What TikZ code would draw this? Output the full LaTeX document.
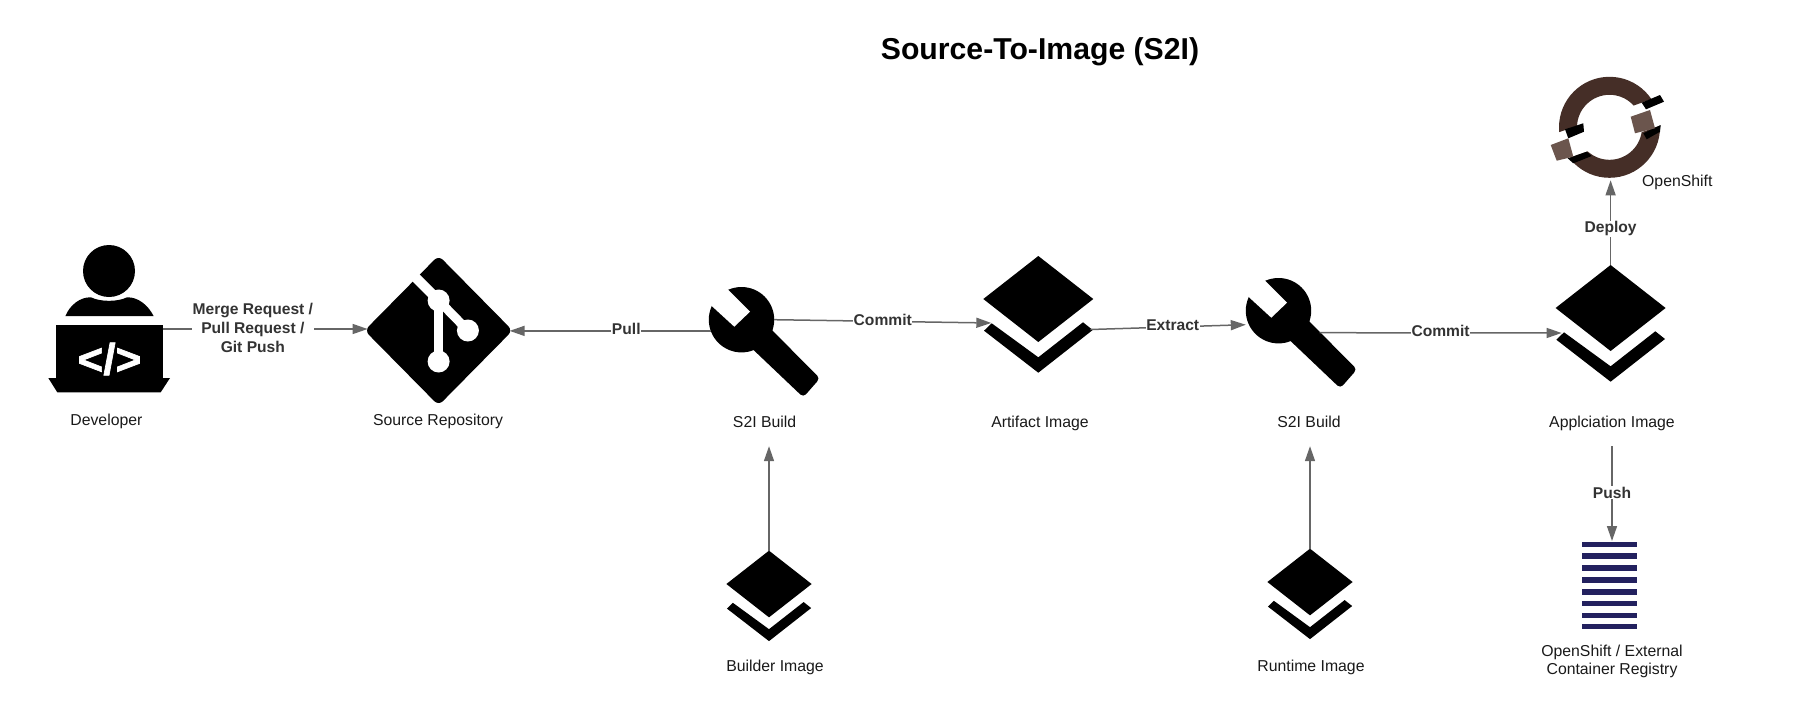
\documentclass[tikz,border=0pt]{standalone}
\usepackage{fontspec}
\setmainfont{Liberation Sans}
\newfontfamily\codefont[BoldFeatures={FakeBold=1.5}]{Liberation Sans}
\usetikzlibrary{arrows.meta,calc}

\definecolor{linegray}{HTML}{666666}
\definecolor{labelgray}{HTML}{333333}
\definecolor{ringdark}{HTML}{452E27}
\definecolor{ringlight}{HTML}{6B554D}
\definecolor{registryblue}{HTML}{23215F}

\tikzset{
  spanner/.pic={
    \fill (17,-3) [rounded corners=4pt] -- (78.5,58.6) -- (61.8,77.6) [sharp corners] -- (-3,16) -- cycle;
    \fill[white] (-29.8,-13.7) -- (-7.2,7) -- (8.5,-8) -- (-13.2,-29.7) -- (-40,-40) -- cycle;
  },
  layers/.pic={
    \fill (0,-43) -- (55,0) -- (0,43) -- (-55,0) -- cycle;
    \fill (-54.3,31.7) -- (-46.6,24.3) -- (0,58.3) -- (44.7,23.3) -- (54.4,31) -- (0,73.7) -- cycle;
  }
}

\begin{document}
\begin{tikzpicture}[x=1pt,y=-1pt,every text node part/.style={align=center}]
  \tikzstyle{icon}=[rectangle,inner sep=0pt,outer sep=0pt]
  \tikzstyle{head}=[circle,fill=black,inner sep=0pt,outer sep=0pt,minimum size=65.4pt]
  \tikzstyle{caption}=[inner xsep=0pt,inner ysep=14.5pt,text height=12pt,text depth=4pt,
    font=\fontsize{15.8}{19}\selectfont,text=black!90]
  \tikzstyle{link}=[draw=linegray,line width=1.5pt,-{Triangle[length=15pt,width=10pt,fill=linegray]}]
  \tikzstyle{linktext}=[fill=white,inner sep=0.5pt,text=labelgray,
    font=\fontsize{15.6}{18.7}\selectfont\bfseries]

  \useasboundingbox (0,0) rectangle (1800,723);

  \node [font=\fontsize{30.2}{36}\selectfont\bfseries,inner sep=0pt] (title) at (1040,51.5) {Source-To-Image (S2I)};

  % developer
  \node [icon,minimum width=106.5pt,minimum height=53.3pt,fill=black] (dev) at (109.4,351.7) {};
  \fill (109,271) circle (26);
  \fill (65.4,316) .. controls (70,305) and (80,297) .. (91,297.3)
    .. controls (100,302) and (118,302) .. (127,297.3)
    .. controls (138,297) and (148,305) .. (153.6,316) -- cycle;
  \fill (48.3,378) -- (170,378) -- (160.7,392.3) -- (57.3,392.3) -- cycle;
  \node [text=white,font=\codefont\fontsize{44}{44}\selectfont\bfseries,inner sep=0pt] (code) at (109.5,359) {</>};
  \node [caption] (devtext) at (106.4,421.5) {Developer};

  % source repository
  \node [icon,minimum width=142pt,minimum height=144pt] (repo) at (438.6,330.5) {};
  \fill[rounded corners=6pt] ([yshift=3pt]repo.north) -- ([xshift=3pt]repo.east)
    -- ([yshift=-3pt]repo.south) -- ([xshift=-3pt]repo.west) -- cycle;
  \begin{scope}[shift={(repo.center)},white]
    \draw[line width=10pt] (-32,-62) -- (0,-30);
    \draw[line width=9pt] (0,-30) -- (0,31);
    \draw[line width=9pt] (0,-30) -- (29.3,0);
    \fill (0,-30) circle (11);
    \fill (29.3,0) circle (11);
    \fill (0,31) circle (11);
  \end{scope}
  \node [caption] (repotext) at (438,421.5) {Source Repository};

  % first build
  \node [head] (buildA) at (741.5,319.7) {};
  \path (buildA) pic {spanner};
  \node [caption] (buildAtext) at (764.6,423.5) {S2I Build};

  \node [icon,minimum width=110pt,minimum height=117pt] (artifact) at (1038.3,314.5) {};
  \path (1038.3,299) pic {layers};
  \node [caption] (artifacttext) at (1040,423.5) {Artifact Image};

  % second build
  \node [head] (buildB) at (1278.5,310.7) {};
  \path (buildB) pic {spanner};
  \node [caption] (buildBtext) at (1309,423.5) {S2I Build};

  \node [icon,minimum width=110pt,minimum height=117pt] (appimage) at (1610.6,323.5) {};
  \path (1610.6,308) pic {layers};
  \node [caption] (appimagetext) at (1612,423.5) {Applciation Image};

  \node [icon,minimum width=85pt,minimum height=90pt] (builder) at (769,596) {};
  \path (769,584) pic[scale=0.775] {layers};
  \node [caption] (buildertext) at (775,667) {Builder Image};

  \node [icon,minimum width=85pt,minimum height=90pt] (runtime) at (1310,594) {};
  \path (1310,582) pic[scale=0.775] {layers};
  \node [caption] (runtimetext) at (1311,667) {Runtime Image};

  % registry
  \node [icon,minimum width=55.6pt,minimum height=88pt] (registry) at (1609.5,585) {};
  \foreach \stripe in {544.3,556,568,580,591.7,603.3,615.3,626.3}
    \fill[registryblue] (1581.7,\stripe-2.8) rectangle (1637.3,\stripe+2.8);
  \node [inner sep=0pt,font=\fontsize{15.8}{18.7}\selectfont,text=black!90] (registrytext) at (1612,661.5)
    {OpenShift / External\\Container Registry};

  % openshift
  \node [circle,inner sep=0pt,outer sep=0pt,minimum size=106pt] (ocp) at (1609.5,127.3) {};
  \begin{scope}
    \clip (1540,139) -- (1680,89) -- (1680,60) -- (1540,60) -- cycle;
    \fill[ringdark,even odd rule] (ocp) circle (50.5) (ocp) circle (32.5);
  \end{scope}
  \begin{scope}
    \clip (1540,168.4) -- (1680,118.5) -- (1680,190) -- (1540,190) -- cycle;
    \fill[ringdark,even odd rule] (ocp) circle (50.5) (ocp) circle (32.5);
  \end{scope}
  \fill (1641.7,102.7) -- (1660,95) -- (1664,101.7) -- (1646,109.3) -- cycle;
  \fill (1565,129.3) -- (1583.3,123.3) -- (1584,131.7) -- (1568.3,138.3) -- cycle;
  \fill (1643.3,133.3) -- (1660.7,125) -- (1660,131.7) -- (1646.7,139.3) -- cycle;
  \fill (1567.7,158.3) -- (1586.7,151.7) -- (1591.7,156) -- (1573.3,163.3) -- cycle;
  \fill[ringlight] (1630.7,116.7) -- (1650,110) -- (1655,128.3) -- (1635,133.3) -- cycle;
  \fill[ringlight] (1550.7,145) -- (1568.3,138.3) -- (1573.3,156.7) -- (1556.7,160.7) -- cycle;
  \node [inner sep=0pt,font=\fontsize{15.8}{19}\selectfont,text=black!90] (ocptext) at (1677.3,182.5) {OpenShift};

  % connectors
  \draw [link] ([yshift=22.7pt]dev.east) -- ([yshift=22.7pt]dev.east -| repo.west)
    node [linktext,pos=0.44,yshift=1pt] (pushtext) {Merge Request /\\Pull Request /\\Git Push};
  \draw [link] (buildA.200) -- (buildA.200 -| repo.east)
    node [linktext,pos=0.42,yshift=1.5pt] (pulltext) {Pull};
  \draw [link] (buildA.east) -- ([shift={(8,8.5)}]artifact.west)
    node [linktext,pos=0.5,yshift=1.5pt] (commitAtext) {Commit};
  \draw [link] ([shift={(-3,15)}]artifact.east) -- ([yshift=-14pt]buildB.west)
    node [linktext,pos=0.53,yshift=1.5pt] (extracttext) {Extract};
  \draw [link] ([shift={(41,22)}]buildB.center) -- ([shift={(6,9.5)}]appimage.west)
    node [linktext,pos=0.5,yshift=1.5pt] (commitBtext) {Commit};
  \draw [link] (appimage.north) -- (appimage.north |- ocp.south)
    node [linktext,pos=0.44,yshift=-1pt] (deploytext) {Deploy};
  \draw [link] (appimagetext.south) -- (appimagetext.south |- registry.north)
    node [linktext,pos=0.49] (registrypushtext) {Push};
  \draw [link] (builder.north) -- (builder.north |- buildAtext.south);
  \draw [link] (runtime.north) -- (runtime.north |- buildBtext.south);
\end{tikzpicture}
\end{document}
